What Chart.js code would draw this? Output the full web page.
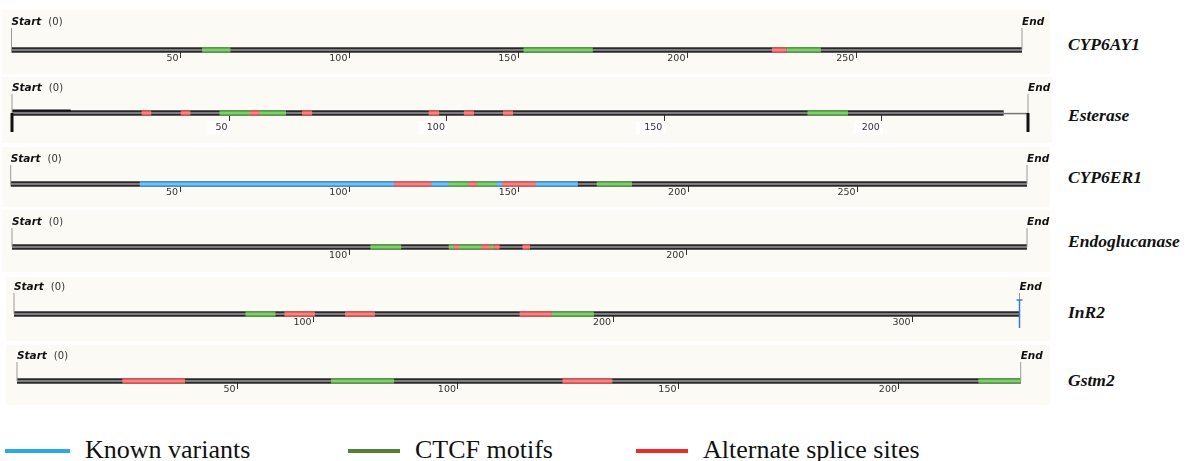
<!DOCTYPE html>
<html><head><meta charset="utf-8">
<script src="https://cdn.jsdelivr.net/npm/chart.js@4.4.0/dist/chart.umd.min.js"></script>
<style>
html,body{margin:0;padding:0;background:#fff;}
#root{position:relative;width:1194px;height:461px;overflow:hidden;background:#fff;}
.panel{position:absolute;background:#fcfaf5;}
.panel canvas{display:block;}
.gene{position:absolute;left:1068px;font:italic bold 17.5px "Liberation Serif",serif;color:#111;line-height:20px;white-space:nowrap;}
.leg-line{position:absolute;height:4px;}
.leg-text{position:absolute;font:26px "Liberation Serif",serif;color:#111;line-height:26px;white-space:nowrap;}
</style></head>
<body><div id="root"></div>
<script>
// ---------- DATA ----------
const genes = ['CYP6AY1', 'Esterase', 'CYP6ER1', 'Endoglucanase', 'InR2', 'Gstm2'];
const geneLengths = [299, 233.6, 300, 301, 335.7, 227.6];
const tickValues = [
  [50, 100, 150, 200, 250],
  [50, 100, 150, 200],
  [50, 100, 150, 200, 250],
  [100, 200],
  [100, 200, 300],
  [50, 100, 150, 200]
];
const knownVariants = [
  [],
  [],
  [[38.1, 167.4]],
  [],
  [],
  []
];
const ctcfMotifs = [
  [[56.4, 64.8], [151.5, 172], [229.3, 239.5]],
  [[47.7, 63], [182.9, 192.2]],
  [[129.2, 143.4], [173, 183.4]],
  [[106.3, 115.4], [129.5, 143]],
  [[77.3, 87.3], [179.6, 193.6]],
  [[71.2, 85.5], [218, 227.6]]
];
const spliceSites = [
  [[225, 229.3]],
  [[29.8, 32], [38.8, 41], [54.7, 56.9], [66.7, 69], [95.8, 98.2], [103.9, 106.2], [112.9, 115.2]],
  [[113.2, 124.2], [135.2, 137.5], [145, 155]],
  [[131, 132.5], [139.3, 141.8], [143, 144.6], [151.4, 153.6]],
  [[90.3, 100.5], [110.5, 120.5], [168.8, 179.6]],
  [[23.9, 38.1], [123.7, 135]]
];
const legendLabels = ['Known variants', 'CTCF motifs', 'Alternate splice sites'];

// ---------- LAYOUT / STYLE ----------
const layout = [
  {l:2, t:10,  w:1048, h:64, x0:11.5, x1:1022,   yTop:28,  yLine:50,  nameY:44},
  {l:2, t:77,  w:1050, h:66, x0:12,   x1:1028,   yTop:94,  yLine:113, nameY:115},
  {l:2, t:147, w:1048, h:60, x0:10.7, x1:1027,   yTop:165, yLine:184, nameY:177},
  {l:2, t:210, w:1048, h:62, x0:12,   x1:1027,   yTop:228, yLine:247, nameY:241},
  {l:6, t:277, w:1044, h:64, x0:14,   x1:1019.5, yTop:293, yLine:314, nameY:312},
  {l:6, t:345, w:1044, h:60, x0:17,   x1:1020.7, yTop:362, yLine:381, nameY:380}
];
const colors = {
  known: {outer:'#4aa3e3', inner:'#8ccaf3', legend:'#29abe2'},
  ctcf:  {outer:'#5dab4c', inner:'#93d683', legend:'#548235'},
  splice:{outer:'#e65b5b', inner:'#f39494', legend:'#ee2a24'}
};

function lineDs(pts, color, width, order, extra) {
  return Object.assign({data: pts, borderColor: color, backgroundColor: color, borderWidth: width,
    pointRadius: 0, order: order, clip: false, tension: 0, borderCapStyle: 'butt', fill: false}, extra || {});
}

const labelPlugin = {
  id: 'trackLabels',
  afterDraw(chart) {
    const {ctx, chartArea, scales} = chart;
    const xs = scales.x.getPixelForValue(0);
    const xe = scales.x.getPixelForValue(scales.x.max);
    const yb = chartArea.top - 3;
    ctx.save();
    ctx.textBaseline = 'alphabetic';
    ctx.textAlign = 'left';
    ctx.fillStyle = '#111';
    ctx.font = 'italic bold 10.5px "DejaVu Sans"';
    ctx.fillText('Start', xs, yb);
    const w = ctx.measureText('Start').width;
    ctx.font = '10px "DejaVu Sans"';
    ctx.fillStyle = '#333';
    ctx.fillText('(0)', xs + w + 7, yb);
    ctx.font = 'italic bold 10.5px "DejaVu Sans"';
    ctx.fillStyle = '#111';
    ctx.fillText('End', xe, yb);
    ctx.restore();
  }
};

const root = document.getElementById('root');
genes.forEach((g, i) => {
  const lay = layout[i];
  const L = geneLengths[i];
  const panel = document.createElement('div');
  panel.className = 'panel';
  panel.style.cssText = `left:${lay.l}px;top:${lay.t}px;width:${lay.w}px;height:${lay.h}px;`;
  const cv = document.createElement('canvas');
  cv.width = lay.w; cv.height = lay.h;
  cv.style.width = lay.w + 'px'; cv.style.height = lay.h + 'px';
  panel.appendChild(cv);
  root.appendChild(panel);

  const name = document.createElement('div');
  name.className = 'gene';
  name.textContent = g;
  name.style.top = (lay.nameY - 10) + 'px';
  root.appendChild(name);

  const unitPx = lay.yLine - lay.yTop;
  const ds = [];
  const isEst = (g === 'Esterase');
  const isInR = (g === 'InR2');
  // base track line
  if (isEst) {
    const darkEnd = 228;
    ds.push(lineDs([{x:0,y:0},{x:darkEnd,y:0}], '#2a2a2a', 5.5, 30));
    ds.push(lineDs([{x:0,y:0},{x:darkEnd,y:0}], '#9a9a9a', 1.5, 29));
    ds.push(lineDs([{x:darkEnd,y:-0.03},{x:L,y:-0.03}], '#777', 1.5, 29));
    ds.push(lineDs([{x:0,y:2.6/unitPx},{x:13.5,y:2.6/unitPx}], '#111', 2, 28));
    ds.push(lineDs([{x:0,y:0},{x:0,y:-19/unitPx}], '#111', 3, 2));
    ds.push(lineDs([{x:L,y:0},{x:L,y:-19/unitPx}], '#111', 3, 2));
  } else {
    ds.push(lineDs([{x:0,y:0},{x:L,y:0}], '#2a2a2a', 5.5, 30));
    ds.push(lineDs([{x:0,y:0},{x:L,y:0}], '#9a9a9a', 1.5, 29));
  }
  const addSegs = (segs, c, o) => segs.forEach(s => {
    ds.push(lineDs([{x:s[0],y:0},{x:s[1],y:0}], c.outer, 5.5, o));
    ds.push(lineDs([{x:s[0],y:0},{x:s[1],y:0}], c.inner, 1.5, o - 1));
  });
  addSegs(knownVariants[i], colors.known, 20);
  addSegs(ctcfMotifs[i], colors.ctcf, 16);
  addSegs(spliceSites[i], colors.splice, 12);
  // start / end markers
  ds.push(lineDs([{x:0,y:0},{x:0,y:1}], '#9a9a9a', 1, 3));
  if (isInR) {
    const a = (lay.yLine - 300) / unitPx, b = (lay.yLine - 328) / unitPx;
    ds.push(lineDs([{x:L,y:a},{x:L,y:1}], '#9a9a9a', 1, 3));
    ds.push(lineDs([{x:L,y:a},{x:L,y:b}], '#3b78d0', 1.5, 1, {pointRadius:3, pointStyle:'line', pointBorderColor:'#3b78d0', pointBorderWidth:1.5}));
  } else {
    ds.push(lineDs([{x:L,y:0},{x:L,y:1}], '#9a9a9a', 1, 3));
  }

  const tl = isEst ? 17 : 8;
  const pad = isEst ? -8 : -5;
  new Chart(cv, {
    type: 'line',
    data: {datasets: ds},
    options: {
      responsive: false, animation: false, devicePixelRatio: 1, events: [],
      layout: {padding: {left: lay.x0 - lay.l, right: (lay.l + lay.w) - lay.x1, top: lay.yTop - lay.t, bottom: (lay.t + lay.h) - lay.yLine}},
      plugins: {legend: {display: false}, tooltip: {enabled: false}},
      scales: {
        x: {
          type: 'linear', min: 0, max: L, position: {y: 0},
          afterBuildTicks: s => { s.ticks = tickValues[i].map(v => ({value: v})); },
          grid: {drawOnChartArea: false, drawTicks: true, tickLength: tl, color: '#333', lineWidth: 1},
          border: {display: false},
          ticks: {font: {family: 'DejaVu Sans', size: 9.5}, color: '#333', align: 'end', labelOffset: -2,
                  padding: pad, autoSkip: false, maxRotation: 0,
                  showLabelBackdrop: isEst, backdropColor: '#ffffff', backdropPadding: {left: 8, right: 3, top: 1, bottom: 1},
                  callback: v => String(v)}
        },
        y: {type: 'linear', min: 0, max: 1, display: false}
      }
    },
    plugins: [labelPlugin]
  });
});

// legend
const legX = [{line:5, w:65, text:85}, {line:348, w:52, text:415}, {line:636, w:52, text:703}];
const legC = [colors.known.legend, colors.ctcf.legend, colors.splice.legend];
legendLabels.forEach((t, k) => {
  const ln = document.createElement('div');
  ln.className = 'leg-line';
  ln.style.cssText = `left:${legX[k].line}px;top:449px;width:${legX[k].w}px;background:${legC[k]};`;
  root.appendChild(ln);
  const tx = document.createElement('div');
  tx.className = 'leg-text';
  tx.style.cssText = `left:${legX[k].text}px;top:437px;`;
  tx.textContent = t;
  root.appendChild(tx);
});
</script>
</body></html>
